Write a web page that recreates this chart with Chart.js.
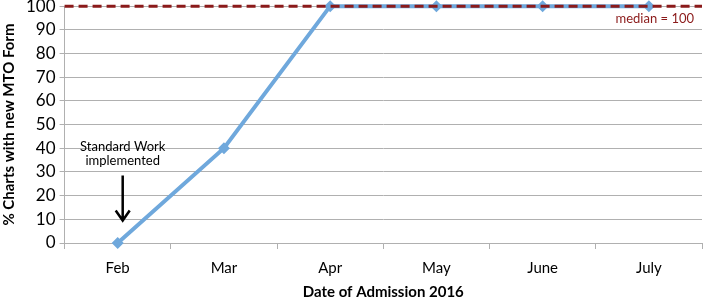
<!DOCTYPE html>
<html>
<head>
<meta charset="utf-8">
<script src="https://cdn.jsdelivr.net/npm/chart.js@4.4.1/dist/chart.umd.min.js"></script>
<style>
  html, body { margin: 0; padding: 0; background: #fff; }
  #wrap { width: 708px; height: 297px; }
</style>
</head>
<body>
<div id="wrap"><canvas id="myChart"></canvas></div>
<script>
const months = ['Feb', 'Mar', 'Apr', 'May', 'June', 'July'];
const pctCharts = [0, 40, 100, 100, 100, 100];
const medianValue = 100;
const yTicks = [0, 10, 20, 30, 40, 50, 60, 70, 80, 90, 100];

const FONT = 'Lato, "Open Sans", sans-serif';

// median line + label, and the "Standard Work implemented" note
const extras = {
    id: 'extras',
    afterDatasetsDraw(chart) {
        const c = chart.ctx;
        const area = chart.chartArea;
        const x = chart.scales.x;
        const y = chart.scales.y;
        const my = y.getPixelForValue(medianValue);

        c.save();
        c.strokeStyle = '#8b1a1a';
        c.lineWidth = 3;
        c.setLineDash([9, 5]);
        c.beginPath();
        c.moveTo(area.left, my);
        c.lineTo(area.right, my);
        c.stroke();
        c.setLineDash([]);

        c.fillStyle = '#8b1a1a';
        c.font = '13px ' + FONT;
        c.textAlign = 'right';
        c.textBaseline = 'middle';
        c.fillText('median = ' + medianValue, area.right - 8, my + 13);

        const fx = x.getPixelForValue(0) + 5;
        c.fillStyle = '#000';
        c.textAlign = 'center';
        c.fillText('Standard Work', fx, y.getPixelForValue(40.5));
        c.fillText('implemented', fx, y.getPixelForValue(34.5));

        const top = y.getPixelForValue(28.5);
        const tip = y.getPixelForValue(9.5);
        c.strokeStyle = '#000';
        c.lineWidth = 2.5;
        c.beginPath();
        c.moveTo(fx, top);
        c.lineTo(fx, tip);
        c.moveTo(fx - 7, tip - 10);
        c.lineTo(fx, tip);
        c.lineTo(fx + 7, tip - 10);
        c.stroke();
        c.restore();
    }
};

const ctx = document.getElementById('myChart');

new Chart(ctx, {
    type: 'line',
    data: {
        labels: months,
        datasets: [{
            label: '% Charts with new MTO Form',
            data: pctCharts,
            borderColor: '#6fa8dc',
            backgroundColor: '#6fa8dc',
            borderWidth: 4,
            pointStyle: 'rectRot',
            pointRadius: 6,
            pointBorderWidth: 0,
            tension: 0,
            clip: false
        }]
    },
    options: {
        responsive: true,
        maintainAspectRatio: false,
        animation: false,
        layout: { padding: { top: 1, right: 3, left: 0, bottom: -4 } },
        plugins: {
            legend: { display: false },
            tooltip: { enabled: false }
        },
        scales: {
            x: {
                offset: true,
                grid: {
                    offset: true,
                    drawOnChartArea: false,
                    drawTicks: true,
                    tickLength: 6,
                    color: '#b0b0b0'
                },
                border: { color: '#b0b0b0' },
                ticks: { color: '#000', font: { family: FONT, size: 15 }, padding: 10 },
                title: {
                    display: true,
                    text: 'Date of Admission 2016',
                    color: '#000',
                    font: { family: FONT, size: 15, weight: 'bold' },
                    padding: { top: -4, bottom: 0 }
                }
            },
            y: {
                min: 0,
                max: 100,
                afterBuildTicks(scale) {
                    scale.ticks = yTicks.map(v => ({ value: v }));
                },
                grid: {
                    color: '#b0b0b0',
                    drawTicks: true,
                    tickLength: 5
                },
                border: { color: '#b0b0b0' },
                ticks: {
                    autoSkip: false,
                    color: '#000',
                    font: { family: FONT, size: 17, lineHeight: 0.25 },
                    padding: 4
                },
                title: {
                    display: true,
                    text: '% Charts with new MTO Form',
                    color: '#000',
                    font: { family: FONT, size: 15, weight: 'bold' },
                    padding: { top: 0, bottom: 4 }
                }
            }
        }
    },
    plugins: [extras]
});
</script>
</body>
</html>
